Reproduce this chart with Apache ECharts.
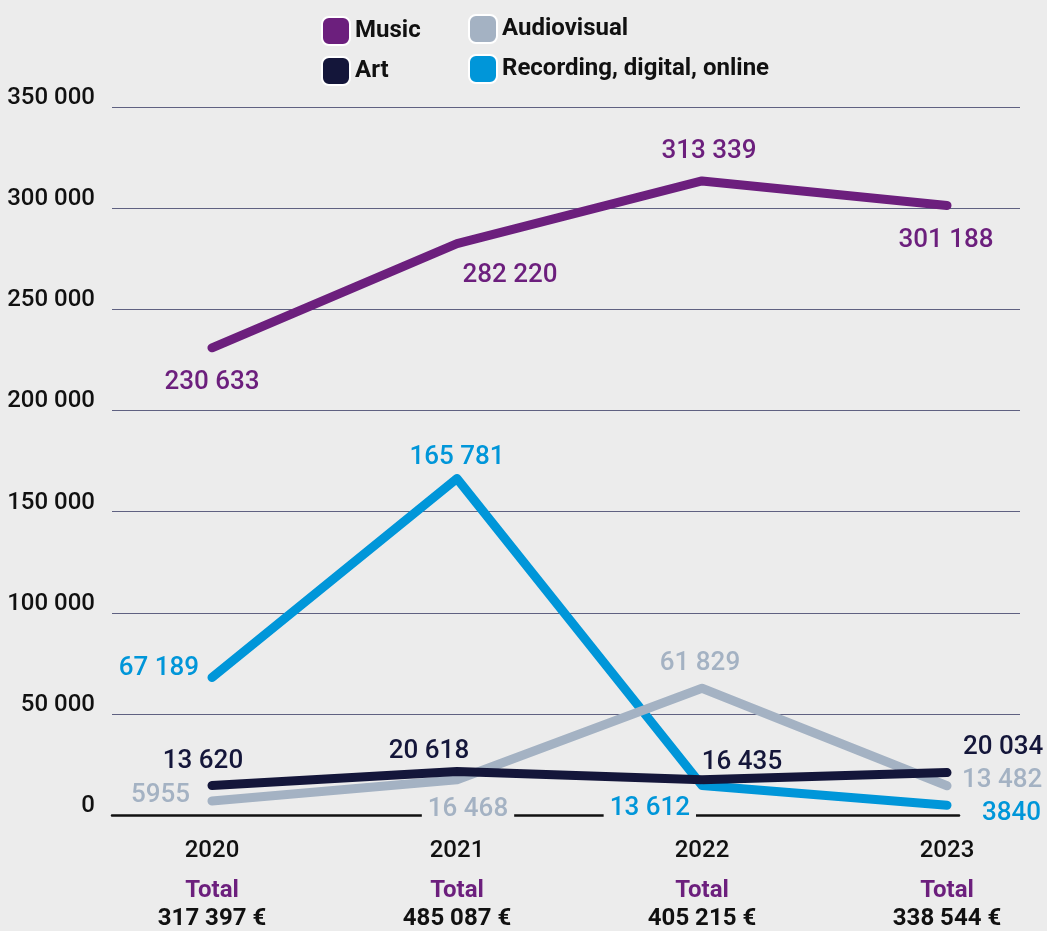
<!DOCTYPE html>
<html>
<head>
<meta charset="utf-8">
<script src="https://cdn.jsdelivr.net/npm/echarts@6/dist/echarts.min.js"></script>
<style>
  html, body { margin: 0; padding: 0; background: #ececec; }
  #chart { width: 1047px; height: 931px; }
</style>
</head>
<body>
<div id="chart"></div>
<script>
const years = ["2020", "2021", "2022", "2023"];
const totals = [317397, 485087, 405215, 338544];
const music = [230633, 282220, 313339, 301188];
const art = [13620, 20618, 16435, 20034];
const audiovisual = [5955, 16468, 61829, 13482];
const recording = [67189, 165781, 13612, 3840];
const yTicks = { min: 0, max: 350000, step: 50000 };

const COLORS = {
  music: "#6c1f7d",
  art: "#14163a",
  audiovisual: "#a4b2c3",
  recording: "#0096d9",
};
const BG = "#ececec";
const FONT = "Roboto, 'Noto Sans', sans-serif";

// 4-digit numbers stay ungrouped, as in the source
const fmt = (n) => (n >= 10000 ? String(n).replace(/\B(?=(\d{3})+(?!\d))/g, " ") : String(n));

// label placement per point: [position, dx, dy]
const labelPlace = {
  music: [["bottom", 0, 16], ["bottom", 53, 13], ["top", 7, -10], ["bottom", -1, 16]],
  recording: [["left", -7, -9], ["top", 0, -2], ["left", 0, 23], ["right", 29, 8]],
  audiovisual: [["left", -16, -5], ["bottom", 11, 11], ["top", -2, -6], ["right", 9, -5]],
  art: [["top", -9, -5], ["top", -28, -1], ["top", 40, 2], ["right", 10, -25]],
};
const withBg = { recording: [2], audiovisual: [1] };

function makeSeries(name, key, values) {
  return {
    name: name,
    type: "line",
    xAxisIndex: 0,
    yAxisIndex: 0,
    symbol: "circle",
    symbolSize: 2,
    color: COLORS[key],
    itemStyle: { color: COLORS[key] },
    lineStyle: { width: 9, color: COLORS[key], cap: "round", join: "round" },
    emphasis: { disabled: true },
    data: values.map((v, i) => {
      const p = labelPlace[key][i];
      const bg = (withBg[key] || []).includes(i);
      return {
        value: v,
        label: {
          show: true,
          position: p[0],
          offset: [p[1], p[2]],
          formatter: fmt(v),
          color: COLORS[key],
          fontFamily: FONT,
          fontSize: 26,
          fontWeight: 500,
          backgroundColor: bg ? BG : "transparent",
          padding: bg ? [0, 6] : 0,
        },
      };
    }),
  };
}

const legendText = { color: "#111", fontFamily: FONT, fontSize: 24, fontWeight: "bold" };
const legendItem = { borderColor: "#ffffff", borderWidth: 2 };

const option = {
  backgroundColor: BG,
  animation: false,
  textStyle: { fontFamily: FONT },
  legend: [
    {
      data: ["Music", "Art"],
      orient: "vertical",
      left: 316,
      top: 11,
      icon: "roundRect",
      itemWidth: 28,
      itemHeight: 28,
      itemGap: 10,
      itemStyle: legendItem,
      textStyle: legendText,
      selectedMode: false,
    },
    {
      data: ["Audiovisual", "Recording, digital, online"],
      orient: "vertical",
      left: 463,
      top: 9,
      icon: "roundRect",
      itemWidth: 28,
      itemHeight: 28,
      itemGap: 10,
      itemStyle: legendItem,
      textStyle: legendText,
      selectedMode: false,
    },
  ],
  grid: [
    // data grid
    { left: 212, right: 100, top: 107, bottom: 116 },
    // gridlines above zero
    { left: 112, right: 27, top: 107, bottom: 217 },
    // zero line and y labels
    { left: 112, right: 88, top: 107, bottom: 116 },
  ],
  xAxis: [
    {
      gridIndex: 0,
      type: "category",
      data: years,
      boundaryGap: false,
      axisLine: { show: false },
      axisTick: { show: false },
      axisLabel: {
        margin: 13,
        formatter: (v, i) => "{y|" + v + "}\n{t|Total}\n{a|" + fmt(totals[i]) + " €}",
        rich: {
          y: { fontFamily: FONT, fontSize: 24, fontWeight: 500, color: "#111", lineHeight: 50 },
          t: { fontFamily: FONT, fontSize: 24, fontWeight: "bold", color: COLORS.music, lineHeight: 29 },
          a: { fontFamily: FONT, fontSize: 24, fontWeight: "bold", color: "#111", lineHeight: 28 },
        },
      },
    },
    { gridIndex: 1, type: "value", show: false },
    {
      gridIndex: 2,
      type: "value",
      min: 0,
      max: 1,
      axisLine: { show: true, lineStyle: { color: "#111", width: 2.5 } },
      axisTick: { show: false },
      axisLabel: { show: false },
      splitLine: { show: false },
    },
  ],
  yAxis: [
    {
      gridIndex: 0,
      type: "value",
      min: yTicks.min,
      max: yTicks.max,
      interval: yTicks.step,
      show: false,
    },
    {
      gridIndex: 1,
      type: "value",
      min: yTicks.step,
      max: yTicks.max,
      interval: yTicks.step,
      axisLine: { show: false },
      axisTick: { show: false },
      axisLabel: { show: false },
      splitLine: { show: true, lineStyle: { color: "#5f6181", width: 1 } },
    },
    {
      gridIndex: 2,
      type: "value",
      min: yTicks.min,
      max: yTicks.max,
      interval: yTicks.step,
      axisLine: { show: false },
      axisTick: { show: false },
      splitLine: { show: false },
      axisLabel: {
        margin: 17,
        formatter: (v) => fmt(v),
        color: "#111",
        fontFamily: FONT,
        fontSize: 24,
        fontWeight: 500,
        verticalAlign: "bottom",
        lineHeight: 18,
      },
    },
  ],
  series: [
    makeSeries("Recording, digital, online", "recording", recording),
    makeSeries("Audiovisual", "audiovisual", audiovisual),
    makeSeries("Music", "music", music),
    makeSeries("Art", "art", art),
  ],
};

const chart = echarts.init(document.getElementById("chart"));
chart.setOption(option);
</script>
</body>
</html>
